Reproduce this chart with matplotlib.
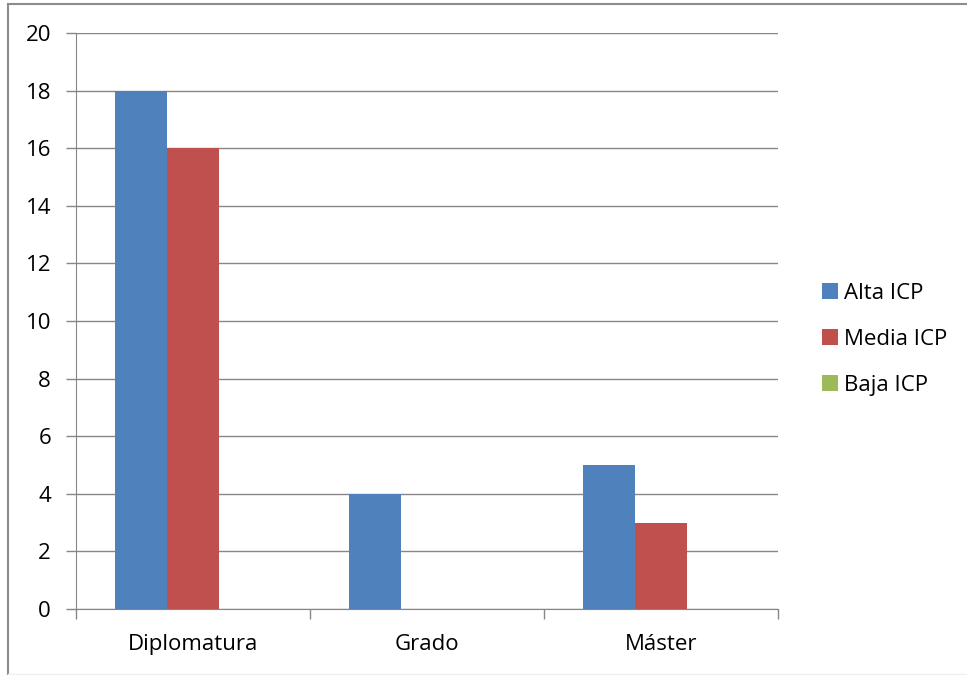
import numpy as np
import matplotlib.pyplot as plt
from matplotlib.lines import Line2D

categories = ["Diplomatura", "Grado", "Máster"]
series_names = ["Alta ICP", "Media ICP", "Baja ICP"]
alta = [18, 4, 5]
media = [16, 0, 3]
baja = [0, 0, 0]
colors = ["#4f81bd", "#c0504d", "#9bbb59"]
yticks = list(range(0, 21, 2))

plt.rcParams['font.family'] = ['Open Sans', 'DejaVu Sans']
grid_c = "#868686"
fs = 16

fig = plt.figure(figsize=(9.67, 6.75), dpi=100)
# chart frame: left and top edges, faint bottom edge
fig.add_artist(Line2D([7.5 / 967, 7.5 / 967], [1 - 4 / 675, 1 - 674 / 675],
                      transform=fig.transFigure, color="#8c8c8c", lw=1.5))
fig.add_artist(Line2D([7.5 / 967, 1], [1 - 4 / 675, 1 - 4 / 675],
                      transform=fig.transFigure, color="#8c8c8c", lw=1.5))
fig.add_artist(Line2D([7.5 / 967, 1], [1 - 674 / 675, 1 - 674 / 675],
                      transform=fig.transFigure, color="#eeeeee", lw=1))

ax = fig.add_axes([76 / 967, 1 - 609 / 675, 702 / 967, 576 / 675])

x = np.arange(len(categories))
w = 1 / 4.5
for i, (vals, name) in enumerate(zip([alta, media, baja], series_names)):
    ax.bar(x + (i - 1) * w, vals, width=w, color=colors[i], label=name, zorder=3)

ax.set_xlim(-0.5, len(categories) - 0.5)
ax.set_ylim(0, 20)
ax.set_yticks(yticks)
ax.set_xticks(x)
ax.set_xticklabels(categories)
ax.set_xticks(np.arange(len(categories) + 1) - 0.5, minor=True)
ax.tick_params(axis='x', which='major', length=0, pad=18, labelsize=fs)
ax.tick_params(axis='x', which='minor', length=7, color=grid_c, width=1)
ax.tick_params(axis='y', length=7, color=grid_c, width=1, pad=11, labelsize=fs)
ax.yaxis.grid(True, color=grid_c, linewidth=1, zorder=0)
for side in ["top", "right"]:
    ax.spines[side].set_visible(False)
for side in ["left", "bottom"]:
    ax.spines[side].set_color(grid_c)
    ax.spines[side].set_zorder(4)

ax.legend(loc="center left", bbox_to_anchor=(1.062, 0.468), frameon=False,
          fontsize=fs, handlelength=0.72, handleheight=0.72,
          handletextpad=0.3, labelspacing=1.12, borderpad=0, borderaxespad=0)

fig.savefig("out.png", dpi=100)
